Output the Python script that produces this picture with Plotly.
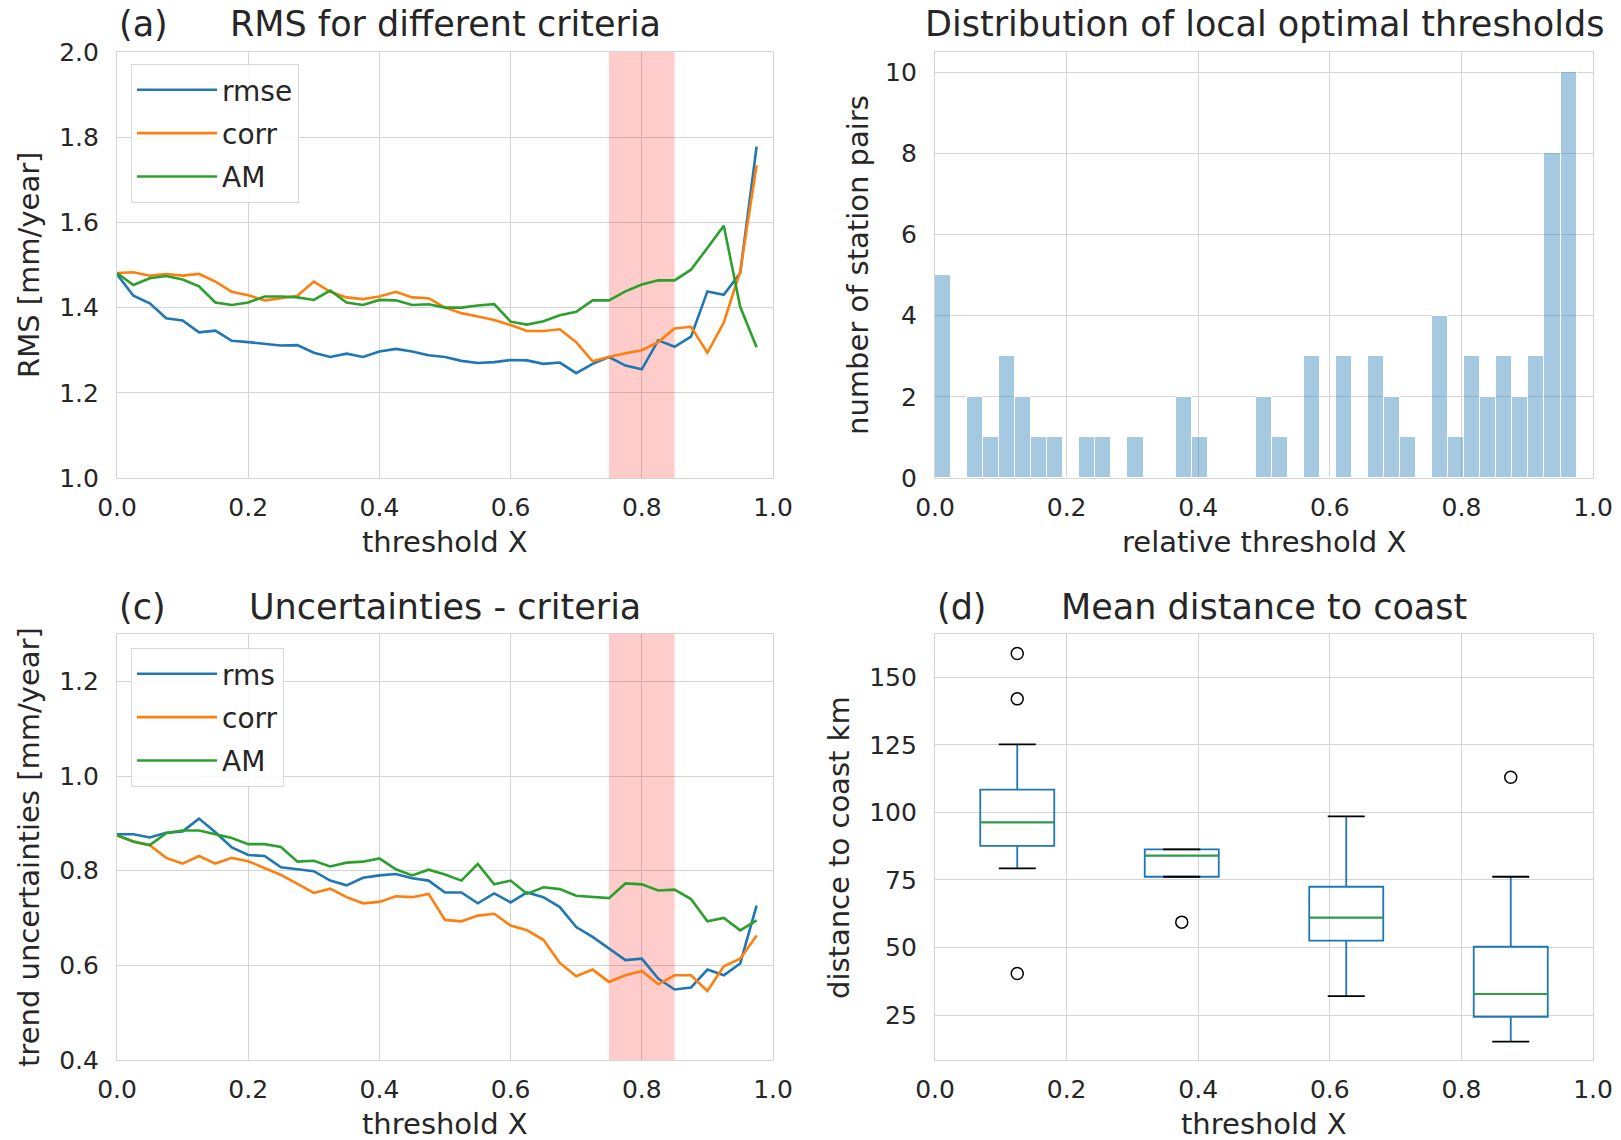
import numpy as np
import plotly.graph_objects as go

W, H = 1621, 1140
FONT = "DejaVu Sans"
TXT = "#262626"
GRID = "#d4d4d4"
BLUE, ORANGE, GREEN = "#1f77b4", "#ff7f0e", "#2ca02c"

# threshold grid shared by panels (a) and (c)
thresholds = [0.0, 0.025, 0.05, 0.075, 0.1, 0.125, 0.15, 0.175, 0.2, 0.225,
              0.25, 0.275, 0.3, 0.325, 0.35, 0.375, 0.4, 0.425, 0.45, 0.475,
              0.5, 0.525, 0.55, 0.575, 0.6, 0.625, 0.65, 0.675, 0.7, 0.725,
              0.75, 0.775, 0.8, 0.825, 0.85, 0.875, 0.9, 0.925, 0.95, 0.975]

# (a) RMS per selection criterion [mm/year]
rms_rmse = [1.478, 1.428, 1.410, 1.375, 1.370, 1.342, 1.346, 1.322, 1.319, 1.315,
            1.311, 1.312, 1.294, 1.284, 1.292, 1.284, 1.297, 1.303, 1.297, 1.288,
            1.284, 1.275, 1.270, 1.272, 1.277, 1.276, 1.268, 1.271, 1.246, 1.268,
            1.284, 1.264, 1.255, 1.323, 1.308, 1.332, 1.438, 1.430, 1.481, 1.778]
rms_corr = [1.481, 1.483, 1.475, 1.479, 1.475, 1.479, 1.461, 1.437, 1.429, 1.417,
            1.422, 1.428, 1.461, 1.437, 1.424, 1.420, 1.426, 1.437, 1.424, 1.422,
            1.400, 1.387, 1.379, 1.371, 1.359, 1.345, 1.345, 1.349, 1.319, 1.274,
            1.284, 1.293, 1.300, 1.319, 1.351, 1.355, 1.294, 1.365, 1.485, 1.734]
rms_am = [1.481, 1.453, 1.469, 1.474, 1.466, 1.450, 1.412, 1.406, 1.412, 1.426,
          1.426, 1.424, 1.418, 1.440, 1.412, 1.406, 1.418, 1.417, 1.406, 1.408,
          1.400, 1.400, 1.405, 1.408, 1.367, 1.360, 1.368, 1.382, 1.390, 1.417,
          1.417, 1.438, 1.454, 1.464, 1.464, 1.489, 1.540, 1.592, 1.402, 1.307]

# (c) trend uncertainties per criterion [mm/year]
unc_rms = [0.877, 0.877, 0.870, 0.880, 0.883, 0.910, 0.881, 0.849, 0.833, 0.831,
           0.807, 0.803, 0.799, 0.779, 0.769, 0.785, 0.790, 0.793, 0.784, 0.779,
           0.754, 0.754, 0.731, 0.752, 0.733, 0.754, 0.744, 0.723, 0.681, 0.660,
           0.636, 0.611, 0.614, 0.572, 0.549, 0.553, 0.591, 0.579, 0.604, 0.726]
unc_corr = [0.874, 0.862, 0.854, 0.827, 0.815, 0.831, 0.815, 0.827, 0.820, 0.806,
            0.791, 0.772, 0.753, 0.762, 0.744, 0.731, 0.734, 0.746, 0.744, 0.751,
            0.696, 0.693, 0.705, 0.709, 0.684, 0.674, 0.654, 0.605, 0.577, 0.591,
            0.565, 0.579, 0.588, 0.560, 0.579, 0.579, 0.546, 0.598, 0.614, 0.663]
unc_am = [0.875, 0.861, 0.854, 0.879, 0.885, 0.885, 0.877, 0.869, 0.856, 0.856,
          0.850, 0.819, 0.821, 0.809, 0.817, 0.819, 0.826, 0.803, 0.790, 0.802,
          0.792, 0.779, 0.814, 0.771, 0.779, 0.751, 0.765, 0.761, 0.747, 0.745,
          0.742, 0.773, 0.771, 0.758, 0.760, 0.740, 0.693, 0.700, 0.674, 0.695]

# (b) histogram of local optimal thresholds: 40 bins over [0, 0.975]
hist_range = (0.0, 0.975)
hist_counts = [5, 0, 2, 1, 3, 2, 1, 1, 0, 1,
               1, 0, 1, 0, 0, 2, 1, 0, 0, 0,
               2, 1, 0, 3, 0, 3, 0, 3, 2, 1,
               0, 4, 1, 3, 2, 3, 2, 3, 8, 10]

# (d) distance to coast per threshold class [km]
box_pos = [0.125, 0.375, 0.625, 0.875]
box_q1 = [87.6, 76.2, 52.6, 24.4]
box_med = [96.3, 84.0, 61.1, 32.9]
box_q3 = [108.4, 86.3, 72.5, 50.3]
box_lo = [79.3, 76.2, 32.0, 15.2]
box_hi = [125.2, 86.3, 98.5, 76.2]
flier_x = [0.125, 0.125, 0.125, 0.375, 0.875]
flier_y = [158.8, 142.0, 40.4, 59.4, 113.0]

# optimal threshold band
band = (0.75, 0.85)

# axis ranges
range_a = [1.0, 2.0]
range_b = [0, 10.5]
range_c = [0.4, 1.3]
range_d = [8.4, 166]


def px_x(p):
    return p / W


def px_y(p):
    return 1 - p / H


# subplot boxes in pixels (left, right, top, bottom)
A = (117, 773, 52, 478)
B = (935, 1593, 52, 478)
C = (117, 773, 634, 1060)
D = (935, 1593, 634, 1060)

fig = go.Figure()


def add_band(xa, ya, yr):
    # translucent span over the grid but under the curves
    fig.add_trace(go.Scatter(x=[band[0], band[1], band[1], band[0], band[0]],
                             y=[yr[0], yr[0], yr[1], yr[1], yr[0]],
                             mode="lines", fill="toself", fillcolor="rgba(255,0,0,0.2)",
                             line=dict(width=0), hoverinfo="skip", showlegend=False,
                             xaxis=xa, yaxis=ya))


add_band("x", "y", range_a)
for name, ys, col in (("rmse", rms_rmse, BLUE), ("corr", rms_corr, ORANGE), ("AM", rms_am, GREEN)):
    fig.add_trace(go.Scatter(x=thresholds, y=ys, mode="lines", name=name,
                             line=dict(color=col, width=2.6), xaxis="x", yaxis="y",
                             legend="legend", legendgroup="a" + name))

edges = np.linspace(hist_range[0], hist_range[1], len(hist_counts) + 1)
centers = (edges[:-1] + edges[1:]) / 2
fig.add_trace(go.Bar(x=centers, y=hist_counts, width=edges[1] - edges[0],
                     marker=dict(color="rgba(31,119,180,0.4)", line=dict(color="white", width=1)),
                     showlegend=False, xaxis="x2", yaxis="y2"))

add_band("x3", "y3", range_c)
for name, ys, col in (("rms", unc_rms, BLUE), ("corr", unc_corr, ORANGE), ("AM", unc_am, GREEN)):
    fig.add_trace(go.Scatter(x=thresholds, y=ys, mode="lines", name=name,
                             line=dict(color=col, width=2.6), xaxis="x3", yaxis="y3",
                             legend="legend2", legendgroup="c" + name))

box_w = 0.1125
fig.add_trace(go.Box(x=box_pos, q1=box_q1, median=box_med, q3=box_q3,
                     lowerfence=box_lo, upperfence=box_hi, width=box_w, whiskerwidth=0,
                     line=dict(color=BLUE, width=1.8), fillcolor="rgba(0,0,0,0)",
                     boxpoints=False, showlegend=False, hoverinfo="skip",
                     xaxis="x4", yaxis="y4"))

med_x, med_y, cap_x, cap_y = [], [], [], []
cap_w = box_w / 4
for p, m, lo, hi in zip(box_pos, box_med, box_lo, box_hi):
    med_x += [p - box_w / 2, p + box_w / 2, None]
    med_y += [m, m, None]
    for v in (lo, hi):
        cap_x += [p - cap_w, p + cap_w, None]
        cap_y += [v, v, None]
fig.add_trace(go.Scatter(x=med_x, y=med_y, mode="lines", line=dict(color=GREEN, width=1.8),
                         showlegend=False, xaxis="x4", yaxis="y4"))
fig.add_trace(go.Scatter(x=cap_x, y=cap_y, mode="lines", line=dict(color="black", width=1.8),
                         showlegend=False, xaxis="x4", yaxis="y4"))
fig.add_trace(go.Scatter(x=flier_x, y=flier_y, mode="markers",
                         marker=dict(symbol="circle-open", size=12, color="black",
                                     line=dict(width=1.5, color="black")),
                         showlegend=False, xaxis="x4", yaxis="y4"))

tickfont = dict(family=FONT, size=25, color=TXT)
common = dict(showgrid=True, gridcolor=GRID, gridwidth=1, showline=True, mirror=True,
              linecolor=GRID, linewidth=1.2, zeroline=False, ticks="", tickfont=tickfont,
              automargin=False)


def xax(box):
    return dict(domain=[px_x(box[0]), px_x(box[1])], range=[0, 1], tick0=0, dtick=0.2,
                tickformat=".1f", ticklabelstandoff=7, **common)


def yax(box, rng, dtick, fmt, anchor):
    return dict(domain=[px_y(box[3]), px_y(box[2])], range=rng, dtick=dtick,
                tickformat=fmt, ticklabelstandoff=12, anchor=anchor, **common)


legend_style = dict(font=dict(family=FONT, size=28, color=TXT), bgcolor="rgba(255,255,255,0.85)",
                    bordercolor="#d8d8d8", borderwidth=1, xanchor="left", yanchor="top",
                    tracegroupgap=4, traceorder="grouped", itemwidth=80)

fig.update_layout(
    template="none",
    width=W, height=H, autosize=False,
    margin=dict(l=0, r=0, t=0, b=0),
    paper_bgcolor="white", plot_bgcolor="white",
    font=dict(family=FONT, color=TXT),
    xaxis=dict(anchor="y", **xax(A)),
    yaxis=yax(A, range_a, 0.2, ".1f", "x"),
    xaxis2=dict(anchor="y2", **xax(B)),
    yaxis2=yax(B, range_b, 2, "d", "x2"),
    xaxis3=dict(anchor="y3", **xax(C)),
    yaxis3=yax(C, range_c, 0.2, ".1f", "x3"),
    xaxis4=dict(anchor="y4", **xax(D)),
    yaxis4=yax(D, range_d, 25, "d", "x4"),
    legend=dict(x=px_x(131), y=px_y(64), **legend_style),
    legend2=dict(x=px_x(131), y=px_y(648), **legend_style),
    bargap=0,
)

TITLE = 35
LABEL = 29
titles = [
    ("(a)", A[0], 24, "left", TITLE),
    ("RMS for different criteria", (A[0] + A[1]) / 2, 24, "center", TITLE),
    ("Distribution of local optimal thresholds", (B[0] + B[1]) / 2, 24, "center", TITLE),
    ("(c)", C[0], 607, "left", TITLE),
    ("Uncertainties - criteria", (C[0] + C[1]) / 2, 607, "center", TITLE),
    ("(d)", D[0], 607, "left", TITLE),
    ("Mean distance to coast", (D[0] + D[1]) / 2, 607, "center", TITLE),
    ("threshold X", (A[0] + A[1]) / 2, 542, "center", LABEL),
    ("relative threshold X", (B[0] + B[1]) / 2, 542, "center", LABEL),
    ("threshold X", (C[0] + C[1]) / 2, 1124, "center", LABEL),
    ("threshold X", (D[0] + D[1]) / 2, 1124, "center", LABEL),
]
for text, x, y, anchor, size in titles:
    fig.add_annotation(text=text, x=px_x(x), y=px_y(y), xref="paper", yref="paper",
                       xanchor=anchor, yanchor="middle", showarrow=False,
                       font=dict(family=FONT, size=size, color=TXT))

ylabels = [
    ("RMS [mm/year]", 29, (A[2] + A[3]) / 2),
    ("number of station pairs", 858, (B[2] + B[3]) / 2),
    ("trend uncertainties [mm/year]", 29, (C[2] + C[3]) / 2),
    ("distance to coast km", 839, (D[2] + D[3]) / 2),
]
for text, x, y in ylabels:
    fig.add_annotation(text=text, x=px_x(x), y=px_y(y), xref="paper", yref="paper",
                       xanchor="center", yanchor="middle", showarrow=False, textangle=-90,
                       font=dict(family=FONT, size=LABEL, color=TXT))

fig.write_html("out.html")
